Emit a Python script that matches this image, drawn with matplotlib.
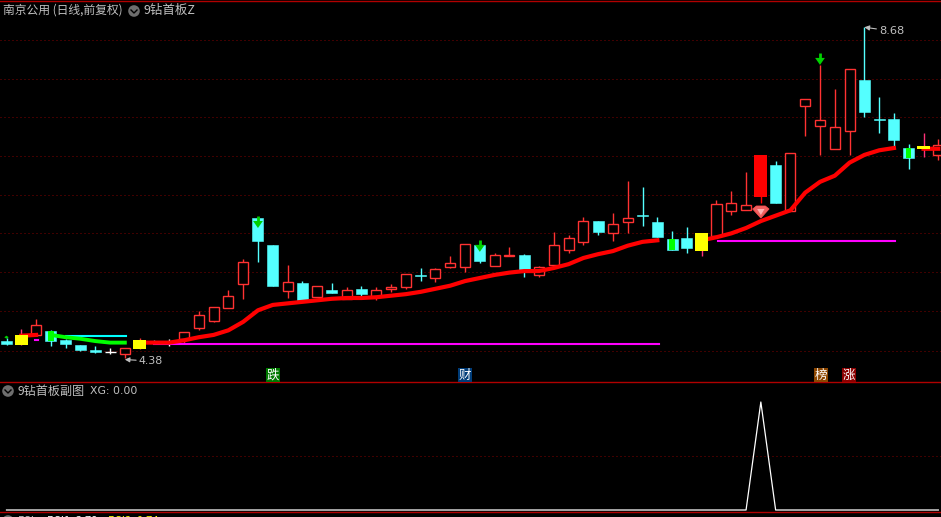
import numpy as np
import matplotlib
matplotlib.use("Agg")
import matplotlib.pyplot as plt
from matplotlib.patches import Circle, Rectangle, Polygon

plt.rcParams["font.family"] = ["Noto Sans CJK SC", "DejaVu Sans"]

# ---- daily bars (price) ----
opens = [4.60, 4.55, 4.68, 4.73, 4.61, 4.55, 4.48, 4.46, 4.43, 4.50, 4.60, 4.59, 4.63, 4.77, 4.86, 5.03,
         5.34, 6.20, 5.85, 5.25, 5.35, 5.17, 5.26, 5.15, 5.28, 5.17, 5.28, 5.30, 5.46, 5.42, 5.56, 5.56,
         5.85, 5.58, 5.71, 5.72, 5.46, 5.59, 5.78, 5.89, 6.16, 6.01, 6.15, 6.24, 6.15, 5.93, 5.94, 5.77,
         5.97, 6.29, 6.30, 6.47, 6.89, 6.29, 7.66, 7.40, 7.10, 7.33, 7.99, 7.49, 7.49, 7.11, 7.10, 7.02]
highs = [4.64, 4.76, 4.89, 4.74, 4.63, 4.55, 4.54, 4.51, 4.51, 4.64, 4.61, 4.63, 4.72, 4.99, 5.04, 5.26,
         5.67, 6.20, 5.85, 5.59, 5.38, 5.32, 5.36, 5.30, 5.32, 5.30, 5.34, 5.47, 5.55, 5.55, 5.71, 5.86,
         5.85, 5.75, 5.82, 5.73, 5.58, 6.02, 5.98, 6.21, 6.16, 6.27, 6.68, 6.60, 6.21, 6.03, 6.08, 6.01,
         6.43, 6.55, 6.80, 7.02, 6.94, 7.05, 7.75, 8.19, 7.88, 8.14, 8.68, 7.77, 7.57, 7.16, 7.31, 7.23]
lows = [4.55, 4.55, 4.67, 4.54, 4.51, 4.47, 4.45, 4.43, 4.38, 4.50, 4.56, 4.54, 4.58, 4.74, 4.85, 5.03,
        5.15, 5.63, 5.32, 5.16, 5.12, 5.17, 5.23, 5.15, 5.19, 5.13, 5.24, 5.28, 5.38, 5.37, 5.55, 5.50,
        5.62, 5.58, 5.71, 5.43, 5.43, 5.59, 5.75, 5.85, 5.98, 5.90, 6.01, 6.10, 5.95, 5.78, 5.75, 5.71,
        5.97, 6.24, 6.30, 6.40, 6.40, 6.29, 7.27, 7.02, 7.10, 7.02, 7.51, 7.31, 7.11, 6.84, 6.99, 6.95]
closes = [4.56, 4.68, 4.81, 4.60, 4.56, 4.48, 4.46, 4.46, 4.51, 4.61, 4.59, 4.59, 4.72, 4.94, 5.04, 5.19,
          5.63, 5.90, 5.32, 5.37, 5.13, 5.32, 5.23, 5.26, 5.21, 5.26, 5.30, 5.47, 5.45, 5.54, 5.62, 5.86,
          5.64, 5.72, 5.72, 5.52, 5.56, 5.85, 5.94, 6.16, 6.02, 6.12, 6.20, 6.23, 5.95, 5.78, 5.81, 6.01,
          6.38, 6.40, 6.37, 7.02, 6.40, 7.05, 7.75, 7.47, 7.38, 8.14, 7.58, 7.48, 7.21, 6.98, 7.14, 7.15]

# ---- indicator lines ----
nan = float("nan")
ma_red = [nan, 4.67, 4.68, nan, nan, nan, nan, nan, nan, 4.58, 4.58, 4.58, 4.61, 4.65, 4.68, 4.74,
          4.85, 5.00, 5.07, 5.09, 5.11, 5.13, 5.15, 5.16, 5.16, 5.17, 5.19, 5.21, 5.24, 5.28, 5.32, 5.38,
          5.42, 5.46, 5.49, 5.51, 5.51, 5.55, 5.60, 5.68, 5.73, 5.77, 5.84, 5.89, 5.91, nan, nan, 5.91,
          5.95, 6.00, 6.07, 6.16, 6.23, 6.30, 6.53, 6.67, 6.75, 6.92, 7.02, 7.08, 7.11, nan, 7.10, 7.10]
green_idx = [3, 4, 5, 6, 7, 8]
green_vals = [4.68, 4.65, 4.63, 4.60, 4.58, 4.58]
yellow_idx = [1, 9, 47, 62]
filled_red_idx = [51]
green_box_idx = [3, 45, 61]
arrow_idx = [17, 32, 55]
arrow_tip = [6.07, 5.76, 8.19]
xg_idx = [0, 50, 51, 52, 63]
xg_vals = [0, 0, 1, 0, 0]
main_grid = [8.51, 8.01, 7.51, 7.01, 6.50, 6.00, 5.50, 4.99, 4.47]

BG = "black"
RED = "#ff3232"
CYAN = "#54ffff"
GRAY = "#c0c0c0"
GRID = "#800000"
BORDER = "#b00000"

W, H = 941, 517
fig = plt.figure(figsize=(W / 100, H / 100), dpi=100, facecolor=BG)

# main pane: pixel rows 0-382, sub pane: 382-512
ax = fig.add_axes([0, 1 - 382 / H, 1, 382 / H], facecolor=BG)
sub = fig.add_axes([0, 1 - 512 / H, 1, 130 / H], facecolor=BG)
for a in (ax, sub):
    a.set_xticks([])
    a.set_yticks([])
    for s in a.spines.values():
        s.set_visible(False)
    a.set_xlim(-0.44, 63.18)

ax.set_ylim(9.034 - 0.013 * 382, 9.034)
sub.set_ylim(-2 / 108, 128 / 108)

for lv in main_grid:
    ax.axhline(lv, color=GRID, lw=0.72, ls=(0, (1, 3)), zorder=1)
sub.axhline(0.5, color=GRID, lw=0.72, ls=(0, (1, 3)), zorder=1)

# ---- candles ----
bw = 0.68
lw_c = 1.0
for i, (o, h, l, c) in enumerate(zip(opens, highs, lows, closes)):
    top, bot = max(o, c), min(o, c)
    if i in yellow_idx:
        wick = "#ff3278" if i in (1, 47, 62) else RED
        ax.plot([i, i], [l, h], color=wick, lw=lw_c, zorder=2, solid_capstyle="butt")
        ax.add_patch(Rectangle((i - 0.44, bot), 0.88, top - bot, fc="#ffff00", ec="none", zorder=6))
    elif i in filled_red_idx:
        ax.plot([i, i], [l, h], color="#ff0000", lw=lw_c, zorder=2, solid_capstyle="butt")
        ax.add_patch(Rectangle((i - 0.44, bot), 0.88, top - bot, fc="#ff0000", ec="none", zorder=3))
    elif c == o:
        ax.plot([i, i], [l, h], color="white", lw=lw_c, zorder=3, solid_capstyle="butt")
        ax.plot([i - 0.37, i + 0.37], [c, c], color="white", lw=lw_c, zorder=3, solid_capstyle="butt")
    elif c > o:
        ax.plot([i, i], [top, h], color=RED, lw=lw_c, zorder=2, solid_capstyle="butt")
        ax.plot([i, i], [l, bot], color=RED, lw=lw_c, zorder=2, solid_capstyle="butt")
        ax.add_patch(Rectangle((i - bw / 2, bot), bw, top - bot, fc=BG, ec=RED, lw=lw_c, zorder=3))
    else:
        ax.plot([i, i], [l, h], color=CYAN, lw=lw_c, zorder=2, solid_capstyle="butt")
        ax.add_patch(Rectangle((i - 0.37, bot), 0.74, top - bot, fc=CYAN, ec=CYAN, lw=0.4, zorder=3))

# green inner bars on some days
for i in green_box_idx:
    ax.add_patch(Rectangle((i - 0.18, min(opens[i], closes[i])), 0.36, abs(opens[i] - closes[i]),
                           fc="#00ff00", ec="none", zorder=4))

# ---- lines ----
ax.plot(range(len(ma_red)), ma_red, color="#ff0000", lw=3.0, zorder=5, solid_capstyle="projecting")
ax.plot(green_idx, green_vals, color="#00ff00", lw=2.8, zorder=5)
ax.plot([4, 8.1], [4.67, 4.67], color="#00ffff", lw=1.5, zorder=4)
ax.plot([10, 44.1], [4.56, 4.56], color="#ff00ff", lw=1.5, zorder=4)
ax.plot([48.1, 60.1], [5.90, 5.90], color="#ff00ff", lw=1.5, zorder=4)
ax.plot([1.9, 2.1], [4.61, 4.61], color="#ff00ff", lw=1.5, zorder=4)

# ---- green down arrows, diamond ----
dp = 0.013
for i, tip in zip(arrow_idx, arrow_tip):
    ax.plot([i, i], [tip + 6 * dp, tip + 12 * dp], color="#00d000", lw=2, zorder=7, solid_capstyle="butt")
    ax.add_patch(Polygon([(i - 0.33, tip + 7 * dp), (i + 0.33, tip + 7 * dp), (i, tip)],
                         fc="#00d000", ec="none", zorder=7))
ax.add_patch(Polygon([(-0.15, 4.65), (0, 4.67), (0.15, 4.65), (0, 4.63)], fc="#00d000", ec="none", zorder=7))

d_x, d_y = 51, 6.356
ax.add_patch(Polygon([(d_x - 0.55, d_y - 3 * dp), (d_x - 0.3, d_y), (d_x + 0.3, d_y), (d_x + 0.55, d_y - 3 * dp), (d_x, d_y - 12 * dp)],
                     fc="#f06060", ec="#ff5050", lw=0.6, zorder=7))
ax.add_patch(Polygon([(d_x - 0.25, d_y - 3 * dp), (d_x + 0.25, d_y - 3 * dp), (d_x, d_y - 9 * dp)],
                     fc="#ffb0b0", ec="none", zorder=8))

# ---- high / low labels ----
arrow_kw = dict(arrowstyle="-|>,head_width=0.18,head_length=0.35", color=GRAY, lw=0.8, shrinkA=0, shrinkB=0)
ax.annotate("8.68", xy=(58, 8.68), xytext=(59.0, 8.63), color=GRAY, fontsize=8.2, va="center", zorder=9,
            family="DejaVu Sans", arrowprops=arrow_kw)
ax.annotate("4.38", xy=(8, 4.36), xytext=(8.95, 4.34), color=GRAY, fontsize=7.9, va="center", zorder=9,
            family="DejaVu Sans", arrowprops=arrow_kw)

# ---- sub pane ----
sub.plot(xg_idx, xg_vals, color="white", lw=0.9, zorder=3)


def px_text(x, y, s, **kw):
    fig.text(x / W, 1 - y / H, s, va="center", ha="left", **kw)


def chevron(x, y):
    fa = fig.add_axes([0, 0, 1, 1], facecolor="none", zorder=20)
    fa.set_xlim(0, W)
    fa.set_ylim(H, 0)
    fa.axis("off")
    fa.add_patch(Circle((x, y), 5.8, fc="#6e6e6e", ec="none"))
    fa.plot([x - 3, x, x + 3], [y - 1, y + 2, y - 1], color="black", lw=1)
    return fa


chevron(134, 11)
chevron(8, 391)
chevron(8, 521)

# ---- headers ----
px_text(3, 10, "南京公用 (日线,前复权)", color=GRAY, fontsize=8.5)
px_text(144, 10, "9钻首板Z", color=GRAY, fontsize=9)
px_text(18, 391, "9钻首板副图", color=GRAY, fontsize=8.7)
px_text(90, 391, "XG: 0.00", color=GRAY, fontsize=7.8, family="DejaVu Sans")

# bottom pane header, only its top edge shows
px_text(18, 521, "RSI", color=GRAY, fontsize=8)
px_text(47, 521, "RSI1: 3.78", color="white", fontsize=8)
px_text(108, 521, "RSI2: 0.74", color="#ffff00", fontsize=8)

# ---- news badges ----
badge_x = [273, 465, 821, 849]
badge_text = ["跌", "财", "榜", "涨"]
badge_col = ["#007800", "#003c78", "#8c4600", "#8c0000"]
for bx, t, col in zip(badge_x, badge_text, badge_col):
    fig.text(bx / W, 1 - 375 / H, t, color="white", fontsize=9, ha="center", va="center",
             bbox=dict(fc=col, ec="none", boxstyle="square,pad=0.05"), zorder=21)

# ---- pane borders ----
for yy in (1, 382, 512):
    fig.add_artist(plt.Line2D([0, 1], [1 - yy / H, 1 - yy / H], color=BORDER, lw=1))

fig.savefig("out.png", dpi=100, facecolor=BG)
